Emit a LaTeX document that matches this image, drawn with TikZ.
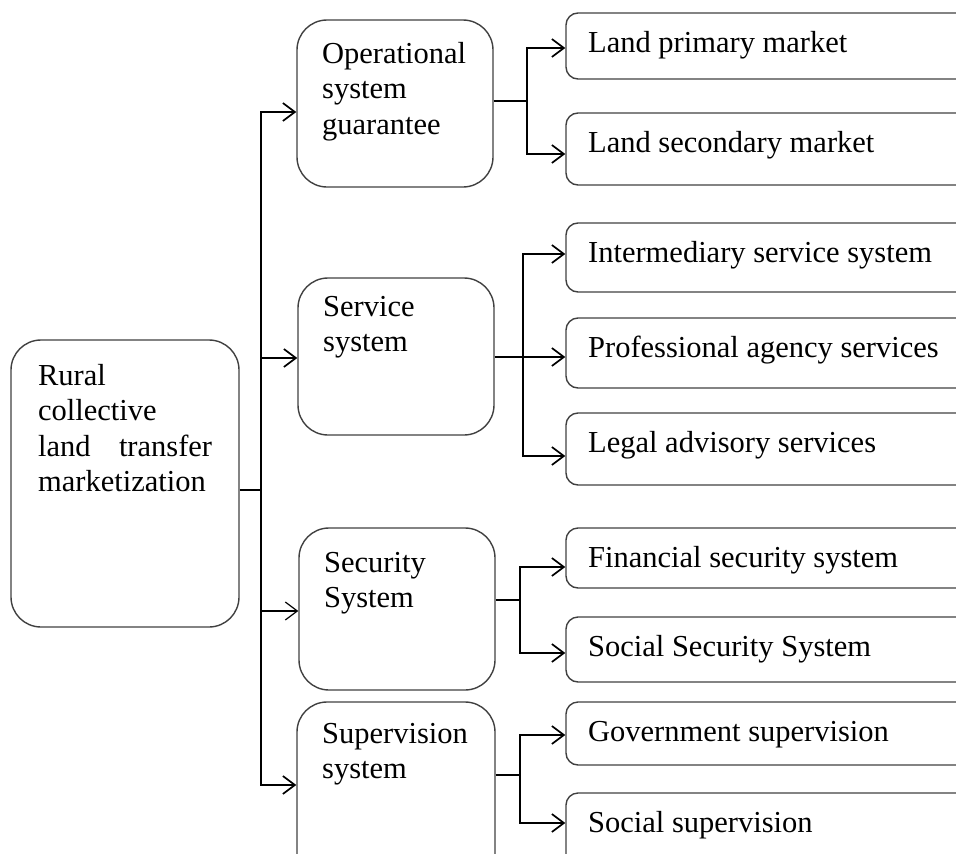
\documentclass[tikz,border=0pt]{standalone}
\usepackage{fontspec}
\setmainfont{Liberation Serif}
\usetikzlibrary{arrows.meta}

\begin{document}
\begin{tikzpicture}[x=1pt, y=-1pt, line width=1.7pt,
		box/.style={draw=black!75, rounded corners=30pt, line width=1.4pt, inner sep=0pt},
		leaf/.style={draw=black!75, rounded corners=12pt, line width=1.4pt, inner sep=0pt, minimum width=414pt},
		txt/.style={anchor=base west, inner sep=0pt, font=\fontsize{30.5}{35.5}\selectfont},
		>={Straight Barb[length=12pt, width=18pt]}]
		\useasboundingbox (0,0) rectangle (956,854);
		\clip (0,0) rectangle (956,854);
		
		% root
		\node[box, minimum width=228pt, minimum height=287pt] (root) at (125,483.5) {};
		\node[txt, text width=174pt, align=left] (roottxt) at ([xshift=27pt, yshift=-46pt]root.north west)
			{Rural\\collective\\land\hfill transfer\\marketization};
		
		% second level
		\node[box, minimum width=196pt, minimum height=167pt] (opt) at (395,103.5) {};
		\node[box, minimum width=196pt, minimum height=157pt] (svc) at (396,356.5) {};
		\node[box, minimum width=196pt, minimum height=162pt] (sec) at (397,609) {};
		\node[box, minimum width=198pt, minimum height=200pt] (sup) at (396,802) {};
		\node[txt, text width=170pt, align=left] (opttxt) at ([xshift=25pt, yshift=-44pt]opt.north west) {Operational\\system\\guarantee};
		\node[txt, text width=170pt, align=left] (svctxt) at ([xshift=25pt, yshift=-39pt]svc.north west) {Service\\system};
		\node[txt, text width=170pt, align=left] (sectxt) at ([xshift=25pt, yshift=-45pt]sec.north west) {Security\\System};
		\node[txt, text width=170pt, align=left] (suptxt) at ([xshift=25pt, yshift=-42pt]sup.north west) {Supervision\\system};
		
		\coordinate (trunk) at (261,490);
		\draw (root.east |- trunk) -- (trunk);
		\draw[->] (trunk) |- ([yshift=-8.5pt]opt.west);
		\draw[->] (trunk) |- ([yshift=-1.5pt]svc.west);
		\draw[->, line width=1.2pt] (trunk) |- ([yshift=-2pt]sec.west);
		\draw[->] (trunk) |- ([yshift=17pt]sup.west);
		
		% branch points
		\coordinate (optbr) at (527,101);
		\coordinate (svcbr) at (523,357);
		\coordinate (secbr) at (520,600);
		\coordinate (supbr) at (520,775);
		\draw (opt.east |- optbr) -- (optbr);
		\draw (svc.east |- svcbr) -- (svcbr);
		\draw[line width=2.2pt] (sec.east |- secbr) -- (secbr);
		\draw (sup.east |- supbr) -- (supbr);
		
		% third level
		\foreach \n/\t/\b/\dy/\br/\s in {
			lpm/13/79/-2/optbr/Land primary market,
			lsm/113/185/-5/optbr/Land secondary market,
			ims/223/292/3.5/svcbr/Intermediary service system,
			pas/318/388/-4/svcbr/Professional agency services,
			las/413/485/-7/svcbr/Legal advisory services,
			fss/528/588/-9/secbr/Financial security system,
			sss/617/682/-3.5/secbr/Social Security System,
			gsv/702/765/-1.5/supbr/Government supervision,
			ssv/793/870/8.5/supbr/Social supervision}
		{
			\pgfmathsetmacro\h{\b-\t}
			\node[leaf, minimum height=\h pt] (\n) at (773,{(\t+\b)/2}) {};
			\node[txt] (\n txt) at ([xshift=22pt, yshift=-40pt]\n.north west) {\s};
			\draw[->] (\br) |- ([yshift=\dy pt]\n.west);
		}
\end{tikzpicture}
\end{document}
